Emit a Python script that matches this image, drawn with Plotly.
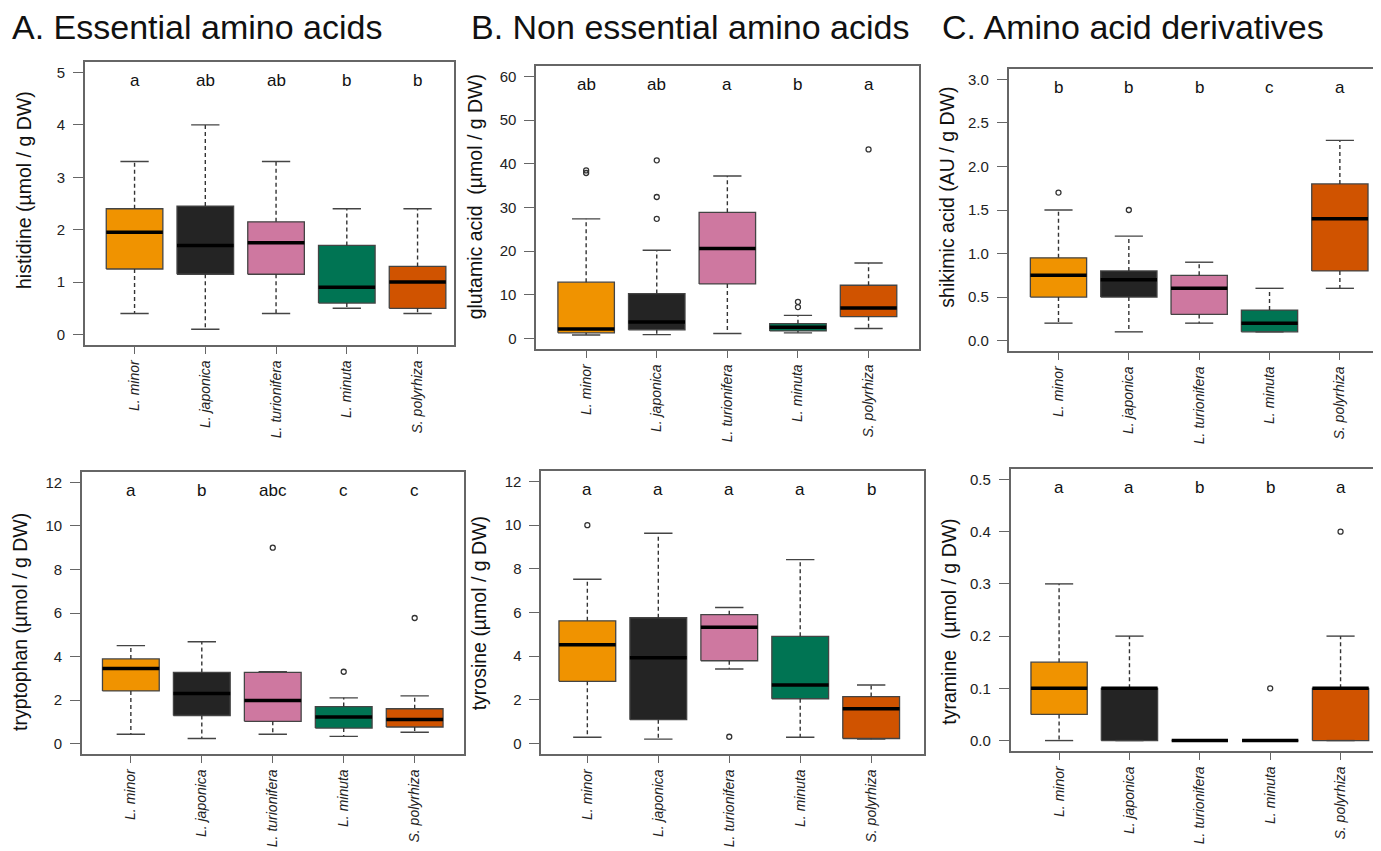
import plotly.graph_objects as go

W, H = 1381, 851
FONT = "Liberation Sans, Arial, sans-serif"

species = ["L. minor", "L. japonica", "L. turionifera", "L. minuta", "S. polyrhiza"]
colors = ["#F09300", "#242424", "#CE78A0", "#007453", "#D05300"]

# ---- A top: histidine ----
his_lo = [0.4, 0.1, 0.4, 0.5, 0.4]
his_q1 = [1.25, 1.15, 1.15, 0.6, 0.5]
his_med = [1.95, 1.7, 1.75, 0.9, 1.0]
his_q3 = [2.4, 2.45, 2.15, 1.7, 1.3]
his_hi = [3.3, 4.0, 3.3, 2.4, 2.4]
his_out = [[], [], [], [], []]
his_letters = ["a", "ab", "ab", "b", "b"]

# ---- B top: glutamic acid ----
glu_lo = [0.8, 0.9, 1.15, 1.3, 2.3]
glu_q1 = [1.3, 2.0, 12.5, 1.75, 5.0]
glu_med = [2.2, 3.8, 20.6, 2.6, 7.0]
glu_q3 = [12.9, 10.3, 28.9, 3.4, 12.2]
glu_hi = [27.4, 20.2, 37.2, 5.3, 17.3]
glu_out = [[38.5, 37.9], [40.8, 32.4, 27.4], [], [8.4, 7.2], [43.3]]
glu_letters = ["ab", "ab", "a", "b", "a"]

# ---- C top: shikimic acid ----
shi_lo = [0.2, 0.1, 0.2, 0.1, 0.6]
shi_q1 = [0.5, 0.5, 0.3, 0.1, 0.8]
shi_med = [0.75, 0.7, 0.6, 0.2, 1.4]
shi_q3 = [0.95, 0.8, 0.75, 0.35, 1.8]
shi_hi = [1.5, 1.2, 0.9, 0.6, 2.3]
shi_out = [[1.7], [1.5], [], [], []]
shi_letters = ["b", "b", "b", "c", "a"]

# ---- A bottom: tryptophan ----
trp_lo = [0.43, 0.23, 0.43, 0.33, 0.52]
trp_q1 = [2.42, 1.29, 1.02, 0.71, 0.76]
trp_med = [3.45, 2.3, 1.98, 1.22, 1.1]
trp_q3 = [3.89, 3.27, 3.27, 1.7, 1.6]
trp_hi = [4.5, 4.68, 3.3, 2.1, 2.19]
trp_out = [[], [], [9.0], [3.3], [5.77]]
trp_letters = ["a", "b", "abc", "c", "c"]

# ---- B bottom: tyrosine ----
tyr_lo = [0.29, 0.2, 3.41, 0.29, 0.2]
tyr_q1 = [2.85, 1.09, 3.79, 2.05, 0.23]
tyr_med = [4.52, 3.93, 5.33, 2.68, 1.59]
tyr_q3 = [5.62, 5.76, 5.9, 4.91, 2.15]
tyr_hi = [7.52, 9.63, 6.23, 8.42, 2.68]
tyr_out = [[10.0], [], [0.31], [], []]
tyr_letters = ["a", "a", "a", "a", "b"]

# ---- C bottom: tyramine ----
tym_lo = [0.0, 0.0, 0.0, 0.0, 0.0]
tym_q1 = [0.05, 0.0, 0.0, 0.0, 0.0]
tym_med = [0.1, 0.1, 0.0, 0.0, 0.1]
tym_q3 = [0.15, 0.1, 0.0, 0.0, 0.1]
tym_hi = [0.3, 0.2, 0.0, 0.0, 0.2]
tym_out = [[], [], [], [0.1], [0.4]]
tym_letters = ["a", "a", "b", "b", "a"]

panels = [
    dict(lo=his_lo, q1=his_q1, med=his_med, q3=his_q3, hi=his_hi, out=his_out, let=his_letters,
         ytitle="histidine (µmol / g DW)", px=(77, 447, 54, 337), xr=[0.298, 5.52], yr=[-0.2, 5.2],
         dtick=1, fmt="", ytx=16, yty=182),
    dict(lo=glu_lo, q1=glu_q1, med=glu_med, q3=glu_q3, hi=glu_hi, out=glu_out, let=glu_letters,
         ytitle="glutamic acid  (µmol / g DW)", px=(529, 912, 58, 341), xr=[0.293, 5.71], yr=[-2.4, 62.4],
         dtick=10, fmt="", ytx=468, yty=189),
    dict(lo=shi_lo, q1=shi_q1, med=shi_med, q3=shi_q3, hi=shi_hi, out=shi_out, let=shi_letters,
         ytitle="shikimic acid (AU / g DW)", px=(1002, 1381, 61, 343), xr=[0.29, 5.67], yr=[-0.12, 3.12],
         dtick=0.5, fmt=".1f", ytx=940, yty=189),
    dict(lo=trp_lo, q1=trp_q1, med=trp_med, q3=trp_q3, hi=trp_hi, out=trp_out, let=trp_letters,
         ytitle="tryptophan (µmol / g DW)", px=(74, 457, 464, 746), xr=[0.31, 5.70], yr=[-0.48, 12.48],
         dtick=2, fmt="", ytx=12, yty=614),
    dict(lo=tyr_lo, q1=tyr_q1, med=tyr_med, q3=tyr_q3, hi=tyr_hi, out=tyr_out, let=tyr_letters,
         ytitle="tyrosine (µmol / g DW)", px=(534, 917, 463, 746), xr=[0.35, 5.74], yr=[-0.48, 12.48],
         dtick=2, fmt="", ytx=472, yty=605),
    dict(lo=tym_lo, q1=tym_q1, med=tym_med, q3=tym_q3, hi=tym_hi, out=tym_out, let=tym_letters,
         ytitle="tyramine  (µmol / g DW)", px=(1004, 1381, 461, 743), xr=[0.31, 5.66], yr=[-0.02, 0.52],
         dtick=0.1, fmt=".1f", ytx=942, yty=614),
]

titles = [("A. Essential amino acids", 2), ("B. Non essential amino acids", 462), ("C. Amino acid derivatives", 933)]

BW = 0.8   # box width (category units)
CW = 0.2   # half cap width

fig = go.Figure()
annotations = []
layout = dict(
    width=W, height=H, margin=dict(l=0, r=0, t=0, b=0),
    paper_bgcolor="white", plot_bgcolor="white", showlegend=False,
    font=dict(family=FONT, color="#222222"),
)

for k, p in enumerate(panels):
    n = k + 1
    suf = "" if n == 1 else str(n)
    xa, ya = f"x{suf}", f"y{suf}"
    xs = list(range(1, len(species) + 1))
    # boxes
    for i, c in enumerate(xs):
        fig.add_trace(go.Scatter(
            x=[c - BW / 2, c + BW / 2, c + BW / 2, c - BW / 2, c - BW / 2],
            y=[p["q1"][i], p["q1"][i], p["q3"][i], p["q3"][i], p["q1"][i]],
            mode="lines", fill="toself", fillcolor=colors[i],
            line=dict(color="#444444", width=1.3), xaxis=xa, yaxis=ya, hoverinfo="skip"))
    # whiskers (dashed)
    wx, wy = [], []
    for i, c in enumerate(xs):
        wx += [c, c, None, c, c, None]
        wy += [p["q3"][i], p["hi"][i], None, p["q1"][i], p["lo"][i], None]
    fig.add_trace(go.Scatter(x=wx, y=wy, mode="lines",
                             line=dict(color="#333333", width=1.4, dash="4px,3px"),
                             xaxis=xa, yaxis=ya, hoverinfo="skip"))
    # caps
    cx, cy = [], []
    for i, c in enumerate(xs):
        cx += [c - CW, c + CW, None, c - CW, c + CW, None]
        cy += [p["hi"][i], p["hi"][i], None, p["lo"][i], p["lo"][i], None]
    fig.add_trace(go.Scatter(x=cx, y=cy, mode="lines",
                             line=dict(color="#444444", width=1.4),
                             xaxis=xa, yaxis=ya, hoverinfo="skip"))
    # medians
    mx, my = [], []
    for i, c in enumerate(xs):
        mx += [c - BW / 2, c + BW / 2, None]
        my += [p["med"][i], p["med"][i], None]
    fig.add_trace(go.Scatter(x=mx, y=my, mode="lines",
                             line=dict(color="#000000", width=3.5),
                             xaxis=xa, yaxis=ya, hoverinfo="skip"))
    # outliers
    ox, oy = [], []
    for i, c in enumerate(xs):
        for v in p["out"][i]:
            ox.append(c)
            oy.append(v)
    if ox:
        fig.add_trace(go.Scatter(x=ox, y=oy, mode="markers",
                                 marker=dict(symbol="circle-open", size=5, color="#333333",
                                             line=dict(width=1.3)),
                                 xaxis=xa, yaxis=ya, hoverinfo="skip"))

    l, r, t, b = p["px"]
    axis_common = dict(showline=True, mirror=True, linecolor="#666666", linewidth=1.5,
                       ticks="outside", tickwidth=1.2, tickcolor="#666666",
                       showgrid=False, zeroline=False)
    layout[f"xaxis{suf}"] = dict(
        domain=[l / W, min(r / W, 1.0)], anchor=ya, range=p["xr"],
        tickmode="array", tickvals=xs, ticktext=[f"<i>{s}</i>" for s in species],
        ticklen=7, ticklabelstandoff=1,
        tickangle=-90, tickfont=dict(size=14, family=FONT, color="#222222"), **axis_common)
    layout[f"yaxis{suf}"] = dict(
        domain=[1 - b / H, 1 - t / H], anchor=xa, range=p["yr"],
        tick0=0, dtick=p["dtick"], tickformat=p["fmt"],
        ticklen=10, ticklabelstandoff=5,
        tickfont=dict(size=15, family=FONT, color="#222222"), **axis_common)

    for i, c in enumerate(xs):
        annotations.append(dict(x=c, y=0.935, xref=xa, yref=f"{ya} domain", text=p["let"][i],
                                showarrow=False, font=dict(size=17, family=FONT, color="#111111"),
                                xanchor="center", yanchor="middle"))
    annotations.append(dict(x=p["ytx"] / W, y=1 - p["yty"] / H, xref="paper", yref="paper",
                            text=p["ytitle"], textangle=-90, showarrow=False,
                            font=dict(size=19.5, family=FONT, color="#111111"),
                            xanchor="center", yanchor="middle"))

for txt, x0 in titles:
    annotations.append(dict(x=x0 / W, y=1 - 19 / H, xref="paper", yref="paper", text=txt,
                            showarrow=False, font=dict(size=34, family=FONT, color="#111111"),
                            xanchor="left", yanchor="middle"))

layout["annotations"] = annotations
fig.update_layout(**layout)
fig.write_html("out.html")
